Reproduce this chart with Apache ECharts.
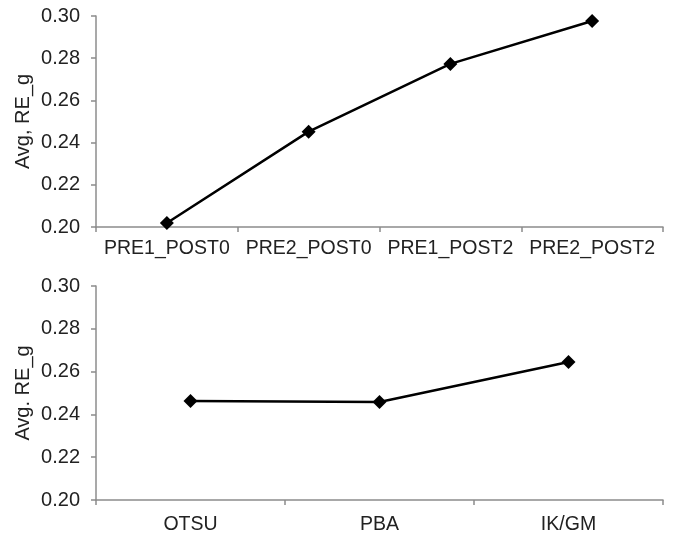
<!DOCTYPE html>
<html>
<head>
<meta charset="utf-8">
<script src="https://cdn.jsdelivr.net/npm/echarts@6/dist/echarts.min.js"></script>
<style>html,body{margin:0;padding:0;background:#fff}#c{width:673px;height:536px}</style>
</head>
<body>
<div id="c"></div>
<script>
const topCategories = ['PRE1_POST0', 'PRE2_POST0', 'PRE1_POST2', 'PRE2_POST2'];
const topValues = [0.2019, 0.2452, 0.2773, 0.2976];
const bottomCategories = ['OTSU', 'PBA', 'IK/GM'];
const bottomValues = [0.2463, 0.2458, 0.2645];
const yMin = 0.20, yMax = 0.30, yStep = 0.02;
const topYName = 'Avg, RE_g';
const bottomYName = 'Avg. RE_g';

const font = 'Liberation Sans, Arial, sans-serif';
const axisGray = '#8c8c8c';
const textColor = '#222';

function xAxis(idx, cats, margin) {
  return {
    type: 'category', gridIndex: idx, data: cats, boundaryGap: true,
    axisLine: { lineStyle: { color: axisGray, width: 1.5 } },
    axisTick: { show: true, length: 5, lineStyle: { color: axisGray, width: 1.5 } },
    axisLabel: { color: textColor, fontFamily: font, fontSize: 19.5, margin: margin, interval: 0 },
    splitLine: { show: false }
  };
}
function yAxis(idx, name) {
  return {
    type: 'value', gridIndex: idx, min: yMin, max: yMax, interval: yStep,
    name: name, nameLocation: 'middle', nameGap: 63, nameMoveOverlap: false,
    nameTextStyle: { color: textColor, fontFamily: font, fontSize: 20 },
    axisLine: { show: true, lineStyle: { color: axisGray, width: 1.5 } },
    axisTick: { show: true, length: 5, lineStyle: { color: axisGray, width: 1.5 } },
    axisLabel: { color: textColor, fontFamily: font, fontSize: 20, margin: 16,
      formatter: v => v.toFixed(2) },
    splitLine: { show: false }
  };
}
function series(idx, vals) {
  return {
    type: 'line', xAxisIndex: idx, yAxisIndex: idx, data: vals,
    symbol: 'diamond', symbolSize: 14,
    lineStyle: { color: '#000', width: 2.5 },
    itemStyle: { color: '#000' },
    animation: false
  };
}

const chart = echarts.init(document.getElementById('c'), null, { renderer: 'canvas' });
chart.setOption({
  animation: false,
  grid: [
    { left: 96, right: 10, top: 16, height: 211 },
    { left: 96, right: 10, top: 286, height: 214 }
  ],
  xAxis: [xAxis(0, topCategories, 12), xAxis(1, bottomCategories, 15)],
  yAxis: [yAxis(0, topYName), yAxis(1, bottomYName)],
  series: [series(0, topValues), series(1, bottomValues)]
});
</script>
</body>
</html>
